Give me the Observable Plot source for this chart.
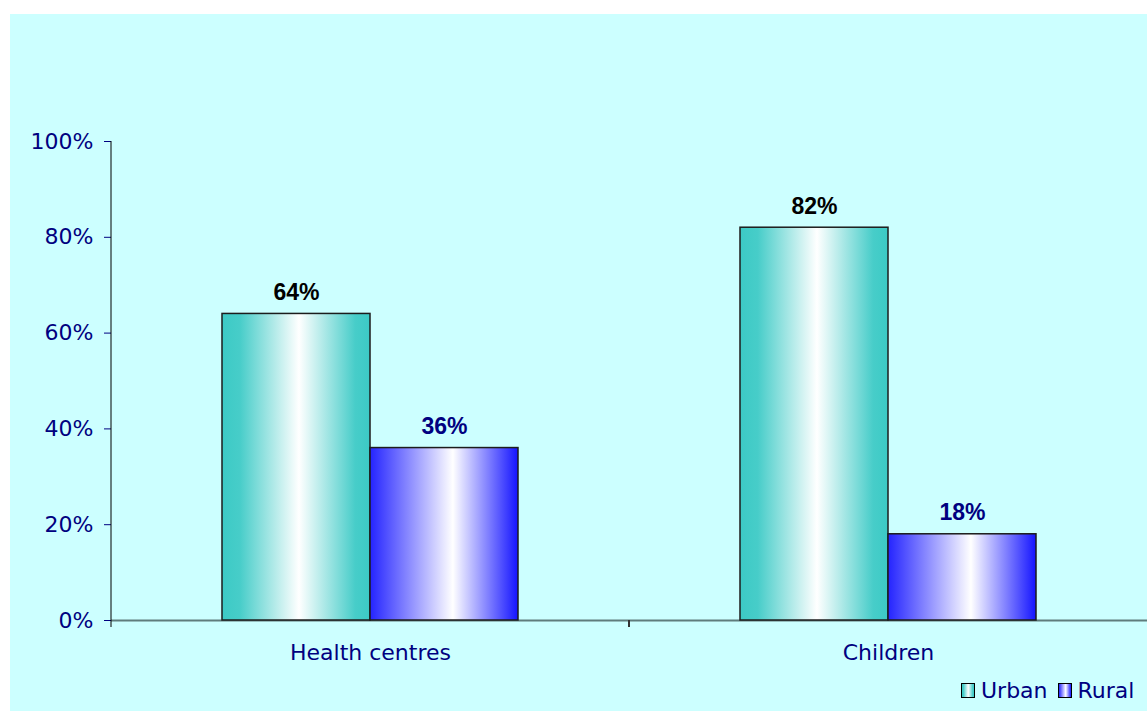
<!DOCTYPE html>
<html>
<head>
<meta charset="utf-8">
<script src="https://cdn.jsdelivr.net/npm/d3@7"></script>
<script src="https://cdn.jsdelivr.net/npm/@observablehq/plot@0.6"></script>
<style>
  html, body { margin: 0; padding: 0; background: #ffffff; }
  #chart {
    position: absolute; left: 10px; top: 14px;
    width: 1137px; height: 697px;
    background: #ccffff; overflow: hidden;
  }
  #chart svg { display: block; }
  #legend {
    position: absolute; left: 951px; top: 664px;
    font-family: "DejaVu Sans", Verdana, sans-serif; font-size: 22px;
    color: #000080; white-space: nowrap; line-height: 26px;
  }
  #legend .sw {
    display: inline-block; width: 12px; height: 13px;
    border: 1px solid #000; vertical-align: 0px; margin-right: 6px;
  }
  #legend .item + .item { margin-left: 10px; }
</style>
</head>
<body>
<div id="chart"><div id="legend"></div></div>
<script>
// Share of resources going to urban vs rural areas
const categories = ["Health centres", "Children"];
const series = ["Urban", "Rural"];
const urbanValues = [64, 82];
const ruralValues = [36, 18];
const yTicks = [0, 20, 40, 60, 80, 100];

// gradient stops per series: [offset, colour]
const urbanStops = [[0, "#3ccac5"], [0.12, "#47cdc9"], [0.52, "#ffffff"], [0.9, "#47cdc9"], [1, "#3ccac5"]];
const ruralStops = [[0, "#2424ff"], [0.56, "#ffffff"], [1, "#1414ff"]];
const labelColors = {Urban: "#000000", Rural: "#000080"};

const rows = [];
categories.forEach((c, i) => {
  rows.push({category: c, series: "Urban", value: urbanValues[i]});
  rows.push({category: c, series: "Rural", value: ruralValues[i]});
});
const gradId = {Urban: "grad-urban", Rural: "grad-rural"};
const gradStops = {Urban: urbanStops, Rural: ruralStops};

const W = 1137, H = 697;
const plot = Plot.plot({
  width: W,
  height: H,
  marginLeft: 101,
  marginRight: 0,
  marginTop: 127,
  marginBottom: 91,
  style: {
    background: "transparent",
    color: "#000080",
    fontFamily: "'DejaVu Sans', Verdana, sans-serif",
    fontSize: "22px",
    overflow: "visible"
  },
  fx: {domain: categories, padding: 0, axis: "bottom", label: null, tickSize: 0, tickPadding: 24},
  x: {domain: series, paddingInner: 0, paddingOuter: 0.748, axis: null},
  y: {domain: [0, 100], ticks: yTicks, tickFormat: d => d + "%", tickSize: 7, tickPadding: 11, label: null, axis: "left"},
  marks: [
    Plot.ruleY([0], {stroke: "#5f7c7c", strokeWidth: 2}),
    ...series.map(s => Plot.barY(rows.filter(d => d.series === s), {
      fx: "category", x: "series", y: "value",
      fill: `url(#${gradId[s]})`, stroke: "#1c1c1c", strokeWidth: 1.5
    })),
    ...series.map(s => Plot.text(rows.filter(d => d.series === s), {
      fx: "category", x: "series", y: "value",
      text: d => d.value + "%",
      lineAnchor: "bottom", dy: -14,
      fill: labelColors[s],
      fontWeight: "bold", fontSize: 23,
      fontFamily: "'Liberation Sans', Arial, sans-serif"
    }))
  ]
});

// gradients used by the bars
const svg = d3.select(plot);
const defs = svg.insert("defs", ":first-child");
series.forEach(s => {
  const g = defs.append("linearGradient").attr("id", gradId[s])
    .attr("x1", 0).attr("x2", 1).attr("y1", 0).attr("y2", 0);
  gradStops[s].forEach(([o, c]) => g.append("stop").attr("offset", o).attr("stop-color", c));
});

// y axis line and category boundary ticks, positioned from the plot's scales
const ys = plot.scale("y");
const fxs = plot.scale("fx");
const band = d3.scaleBand().domain(fxs.domain).range(fxs.range).padding(0);
const y0 = ys.range[0], y1 = ys.range[1];
const bounds = band.domain().map(d => band(d));
const tickG = svg.append("g").attr("stroke", "#000").attr("fill", "none");
tickG.append("line").attr("x1", bounds[0]).attr("x2", bounds[0]).attr("y1", y1).attr("y2", y0 + 7).attr("stroke-width", 1);
bounds.slice(1).forEach(x => tickG.append("line").attr("x1", x).attr("x2", x).attr("y1", y0).attr("y2", y0 + 7).attr("stroke-width", 2).attr("stroke", "#333"));
svg.selectAll('g[aria-label="y-axis tick"]').attr("stroke", "#000");
svg.selectAll('g[aria-label="y-axis"] line').attr("stroke", "#000");

document.getElementById("chart").prepend(plot);

// legend
const legend = d3.select("#legend");
series.forEach(s => {
  const item = legend.append("span").attr("class", "item");
  item.append("span").attr("class", "sw")
    .style("background", `linear-gradient(to right, ${gradStops[s].map(([o, c]) => `${c} ${o * 100}%`).join(", ")})`);
  item.append("span").text(s);
});
</script>
</body>
</html>
